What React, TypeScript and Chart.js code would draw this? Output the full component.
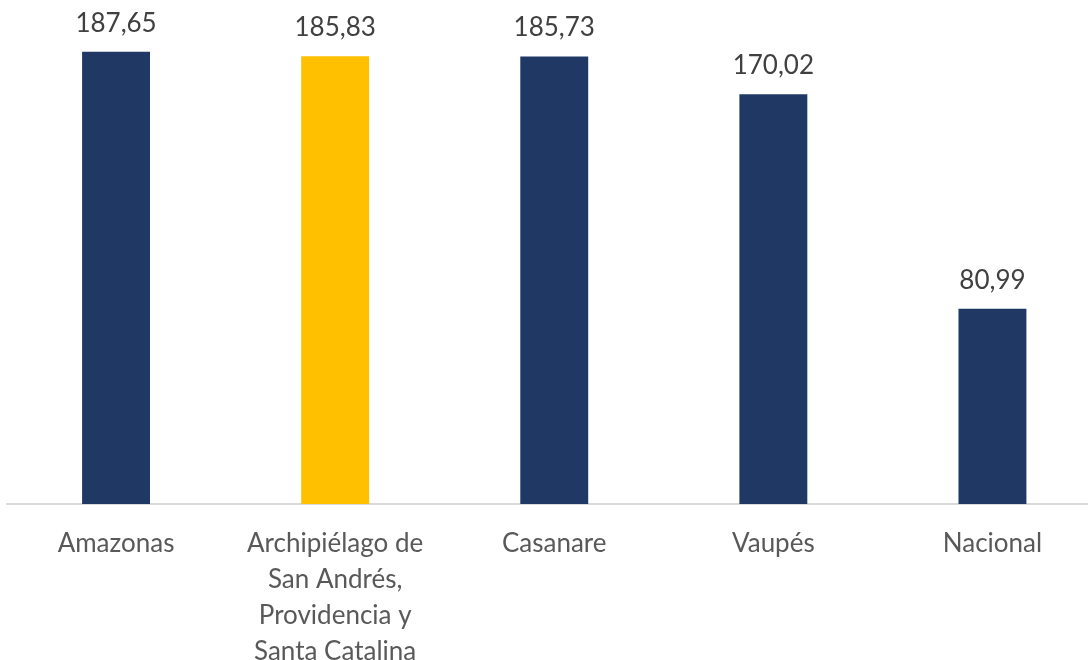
import React, { useEffect, useRef } from "react";
import { Chart, registerables } from "chart.js";

Chart.register(...registerables);

const categories: (string | string[])[] = [
  "Amazonas",
  ["Archipiélago de", "San Andrés,", "Providencia y", "Santa Catalina"],
  "Casanare",
  "Vaupés",
  "Nacional",
];
const values = [187.65, 185.83, 185.73, 170.02, 80.99];
const barColors = ["#1F3864", "#FFC000", "#1F3864", "#1F3864", "#1F3864"];

const FONT = "Lato, 'Open Sans', sans-serif";

const valueLabels = {
  id: "valueLabels",
  afterDatasetsDraw(chart: any) {
    const ctx = chart.ctx;
    const meta = chart.getDatasetMeta(0);
    ctx.save();
    ctx.font = `26px ${FONT}`;
    ctx.fillStyle = "#404040";
    ctx.textAlign = "center";
    ctx.textBaseline = "alphabetic";
    meta.data.forEach((bar: any, i: number) => {
      const txt = values[i].toFixed(2).replace(".", ",");
      ctx.fillText(txt, bar.x, bar.y - 20);
    });
    ctx.restore();
  },
};

export default function App() {
  const ref = useRef<HTMLCanvasElement>(null);
  useEffect(() => {
    document.body.style.margin = "0";
    const chart = new Chart(ref.current!, {
      type: "bar",
      data: {
        labels: categories,
        datasets: [
          {
            data: values,
            backgroundColor: barColors,
            barPercentage: 0.31,
            categoryPercentage: 1,
          },
        ],
      },
      options: {
        animation: false,
        responsive: false,
        maintainAspectRatio: false,
        layout: { padding: { left: 6.5, right: 0, top: 22, bottom: 0 } },
        plugins: { legend: { display: false }, tooltip: { enabled: false } },
        scales: {
          x: {
            grid: { display: false, drawTicks: false },
            border: { display: true, color: "#D9D9D9", width: 2 },
            ticks: {
              color: "#595959",
              font: { family: FONT, size: 26, lineHeight: 1.385 },
              padding: 22,
              maxRotation: 0,
              autoSkip: false,
            },
            afterFit: (scale: any) => {
              scale.height = 156;
            },
          },
          y: {
            display: false,
            min: 0,
            max: 200,
          },
        },
      },
      plugins: [valueLabels],
    });
    return () => chart.destroy();
  }, []);
  return (
    <div style={{ position: "absolute", left: 0, top: 0, width: 1088, height: 660, overflow: "hidden", background: "#fff" }}>
      <canvas ref={ref} width={1102} height={660} style={{ width: 1102, height: 660, display: "block" }} />
    </div>
  );
}
